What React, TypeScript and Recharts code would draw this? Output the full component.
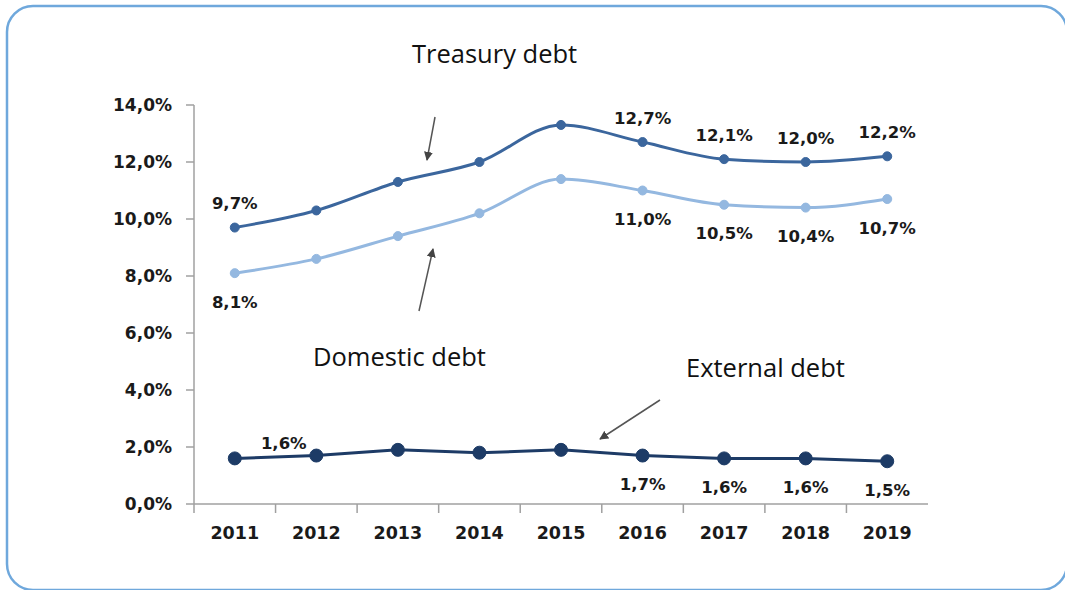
import React from 'react'
import { LineChart, Line, XAxis, YAxis } from 'recharts'

const years = ['2011', '2012', '2013', '2014', '2015', '2016', '2017', '2018', '2019']
const treasuryDebt = [9.7, 10.3, 11.3, 12.0, 13.3, 12.7, 12.1, 12.0, 12.2]
const domesticDebt = [8.1, 8.6, 9.4, 10.2, 11.4, 11.0, 10.5, 10.4, 10.7]
const externalDebt = [1.6, 1.7, 1.9, 1.8, 1.9, 1.7, 1.6, 1.6, 1.5]
const yTicks = [0, 2, 4, 6, 8, 10, 12, 14]
const treasuryLabelled = [0, 5, 6, 7, 8]
const domesticLabelled = [0, 5, 6, 7, 8]
const externalLabelled = [0, 5, 6, 7, 8]

const data = years.map((year, i) => ({
  year,
  treasury: treasuryDebt[i],
  domestic: domesticDebt[i],
  external: externalDebt[i],
}))

const W = 1065
const H = 590
const Y_AXIS_W = 194
const MARGIN = { top: 105, right: 137, bottom: 46, left: 0 }
const BAND = (W - Y_AXIS_W - MARGIN.right) / years.length

const NUM_FONT = '"DejaVu Sans", sans-serif'
const NOTE_FONT = '"Open Sans", sans-serif'

const pct = (v: number) => v.toFixed(1).replace('.', ',') + '%'

function YearTick(props: any) {
  const { x, y, payload } = props
  const axisY = y - 18
  return (
    <g>
      <line x1={x - BAND / 2} x2={x - BAND / 2} y1={axisY} y2={axisY + 9} stroke="#a0a0a0" strokeWidth={1.5} />
      <text x={x} y={y + 17} textAnchor="middle" fontFamily={NUM_FONT} fontWeight="bold" fontSize={17.5} fill="#1a1a1a">
        {payload.value}
      </text>
    </g>
  )
}

function makeDot(color: string, r: number, labelled: number[], place: (i: number) => [number, number]) {
  return (props: any) => {
    const { cx, cy, index, value } = props
    const show = labelled.includes(index)
    const [dx, dy] = place(index)
    return (
      <g key={'d' + index}>
        <circle cx={cx} cy={cy} r={r} fill={color} stroke={color} />
        {show && (
          <text
            x={cx + dx}
            y={cy + dy}
            textAnchor="middle"
            dominantBaseline="central"
            fontFamily={NUM_FONT}
            fontWeight="bold"
            fontSize={16.5}
            fill="#1a1a1a"
          >
            {pct(value)}
          </text>
        )}
      </g>
    )
  }
}

const Arrow = ({ x1, y1, x2, y2 }: { x1: number; y1: number; x2: number; y2: number }) => (
  <line x1={x1} y1={y1} x2={x2} y2={y2} stroke="#555" strokeWidth={1.5} markerEnd="url(#arrowHead)" />
)

export default function App() {
  return (
    <div style={{ position: 'absolute', left: 0, top: 0, width: W, height: H, background: '#fff' }}>
      <LineChart width={W} height={H} data={data} margin={MARGIN}>
        <XAxis
          dataKey="year"
          scale="band"
          interval={0}
          height={40}
          tickLine={false}
          tickSize={10}
          tickMargin={8}
          axisLine={{ stroke: '#a0a0a0', strokeWidth: 1.5 }}
          tick={<YearTick />}
        />
        <YAxis
          width={Y_AXIS_W}
          domain={[0, 14]}
          ticks={yTicks}
          tickFormatter={pct}
          tickSize={8}
          tickMargin={14}
          axisLine={{ stroke: '#a0a0a0', strokeWidth: 1.5 }}
          tickLine={{ stroke: '#a0a0a0', strokeWidth: 1.5 }}
          tick={{ fontFamily: NUM_FONT, fontWeight: 'bold', fontSize: 17, fill: '#1a1a1a' }}
        />
        <Line
          type="monotone"
          dataKey="domestic"
          stroke="#94b8e0"
          strokeWidth={3}
          dot={makeDot('#94b8e0', 4.5, domesticLabelled, () => [0, 29])}
          isAnimationActive={false}
        />
        <Line
          type="monotone"
          dataKey="treasury"
          stroke="#3b669d"
          strokeWidth={3}
          dot={makeDot('#3b669d', 4.5, treasuryLabelled, () => [0, -24])}
          isAnimationActive={false}
        />
        <Line
          type="linear"
          dataKey="external"
          stroke="#1d3b66"
          strokeWidth={3}
          dot={makeDot('#1d3b66', 6.5, externalLabelled, (i) => (i === 0 ? [49, -15] : [0, 29]))}
          isAnimationActive={false}
        />
      </LineChart>
      <svg width={W} height={H} style={{ position: 'absolute', left: 0, top: 0, pointerEvents: 'none' }}>
        <defs>
          <marker id="arrowHead" viewBox="0 0 10 10" refX="9" refY="5" markerWidth="9" markerHeight="9" markerUnits="userSpaceOnUse" orient="auto">
            <path d="M0,0 L10,5 L0,10 z" fill="#444" />
          </marker>
        </defs>
        <rect x={7} y={6} width={1060} height={584} rx={26} fill="none" stroke="#6fa8dc" strokeWidth={2.5} />
        <Arrow x1={435} y1={117} x2={427} y2={160} />
        <Arrow x1={419} y1={311} x2={433} y2={249} />
        <Arrow x1={660} y1={400} x2={600} y2={439} />
        <text x={412} y={63} fontFamily={NOTE_FONT} fontSize={25.5} fill="#111">Treasury debt</text>
        <text x={313} y={366} fontFamily={NOTE_FONT} fontSize={25.5} fill="#111">Domestic debt</text>
        <text x={686} y={377} fontFamily={NOTE_FONT} fontSize={25.5} fill="#111">External debt</text>
      </svg>
    </div>
  )
}
